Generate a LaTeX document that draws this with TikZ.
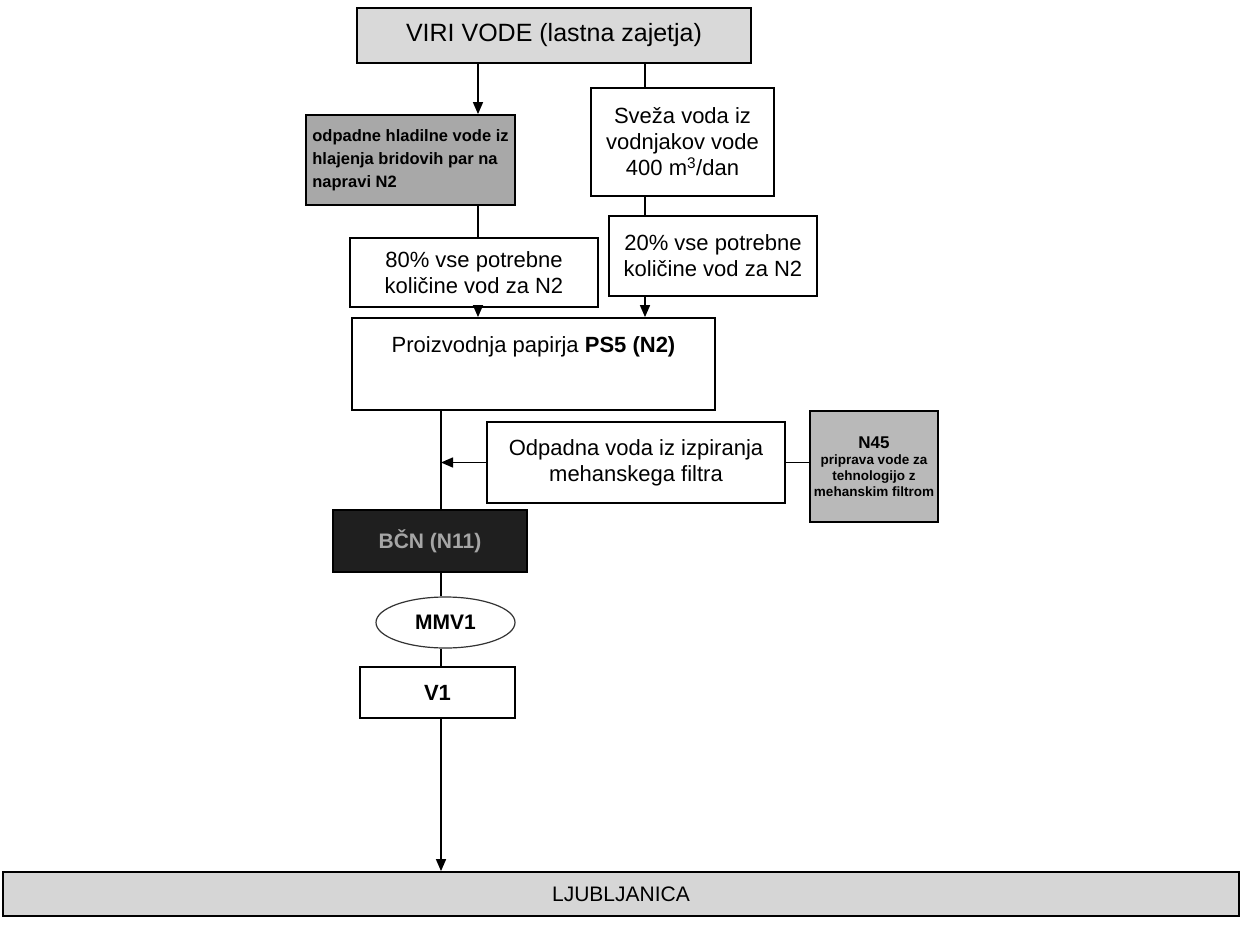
\documentclass[tikz,border=0pt]{standalone}
\usepackage{fontspec}
\setmainfont{Liberation Sans}
\usetikzlibrary{arrows.meta,shapes.geometric}
\begin{document}
\begin{tikzpicture}[x=1pt,y=-1pt,
  box/.style={draw=black,line width=1.8pt,inner sep=0pt,align=center,
    font=\fontsize{22}{26}\selectfont},
  lbox/.style={box,fill=gray!30},
  conn/.style={line width=1.5pt},
  arr/.style={conn,-{Triangle[length=12pt,width=10pt]}}]
\useasboundingbox (0,0) rectangle (1242,924);
\fill[white] (0,0) rectangle (1242,924);
\coordinate (colL) at (478,0);
\coordinate (colR) at (645,0);
\coordinate (colM) at (441,0);

\node[lbox,minimum width=394pt,minimum height=55pt,font=\fontsize{25}{29}\selectfont] (viri) at (554,35.5) {VIRI VODE (lastna zajetja)};
\node[box,fill=gray!68,minimum width=209pt,minimum height=90pt,align=left,font=\fontsize{16.5}{23}\selectfont\bfseries,text=black] (hlad) at (410.5,160) {odpadne hladilne vode iz\\hlajenja bridovih par na\\napravi N2};
\node[box,minimum width=183pt,minimum height=108pt] (sveza) at (682.5,142) {Sveža voda iz\\vodnjakov vode\\400 m\textsuperscript{3}/dan};
\node[box,minimum width=248pt,minimum height=69pt] (p80) at (474,272.5) {80\% vse potrebne\\količine vod za N2};
\node[box,minimum width=208pt,minimum height=80pt] (p20) at (713,256) {20\% vse potrebne\\količine vod za N2};
\node[box,minimum width=363pt,minimum height=92pt] (proiz) at (533.5,364) {};
\node[font=\fontsize{22}{26}\selectfont] (proiztxt) at (533.5,347) {Proizvodnja papirja \textbf{PS5 (N2)}};
\node[box,minimum width=298pt,minimum height=81pt] (odp) at (636,462.5) {Odpadna voda iz izpiranja\\mehanskega filtra};
\node[box,fill=gray!55,minimum width=128pt,minimum height=111pt,font=\fontsize{13.5}{16}\selectfont\bfseries] (n45) at (874,466.5) {{\fontsize{17}{21}\selectfont N45}\\priprava vode za\\tehnologijo z\\mehanskim filtrom};
\node[box,fill=black!88,minimum width=194pt,minimum height=62pt,text=gray!70,font=\fontsize{21}{25}\selectfont\bfseries] (cn) at (430,541) {BČN (N11)};
\node[draw=black!80,line width=1.2pt,ellipse,inner sep=0pt,minimum width=139pt,minimum height=51pt,font=\fontsize{21}{25}\selectfont\bfseries] (mmv) at (445.5,622.5) {MMV1};
\node[box,minimum width=155pt,minimum height=51pt,font=\fontsize{22}{26}\selectfont\bfseries] (v1) at (437.5,692.5) {V1};
\node[lbox,fill=gray!32,minimum width=1236pt,minimum height=44pt,font=\fontsize{21}{24}\selectfont] (lj) at (621,894) {LJUBLJANICA};

\draw[arr] (viri.south -| colL) -- (hlad.north -| colL);
\draw[conn] (viri.south -| colR) -- (sveza.north -| colR);
\draw[conn] (hlad.south -| colL) -- (p80.north -| colL);
\draw[conn] (sveza.south -| colR) -- (p20.north -| colR);
\draw[arr] (p80.south -| colL) -- (proiz.north -| colL);
\draw[arr] (p20.south -| colR) -- (proiz.north -| colR);
\draw[conn] (proiz.south -| colM) -- (cn.north -| colM);
\draw[arr] (odp.west) -- (odp.west -| colM);
\draw[conn] (odp.east) -- (odp.east -| n45.west);
\draw[conn] (cn.south -| colM) -- (mmv.north -| colM);
\draw[conn] (mmv.south -| colM) -- (v1.north -| colM);
\draw[arr] (v1.south -| colM) -- (lj.north -| colM);
\end{tikzpicture}
\end{document}
